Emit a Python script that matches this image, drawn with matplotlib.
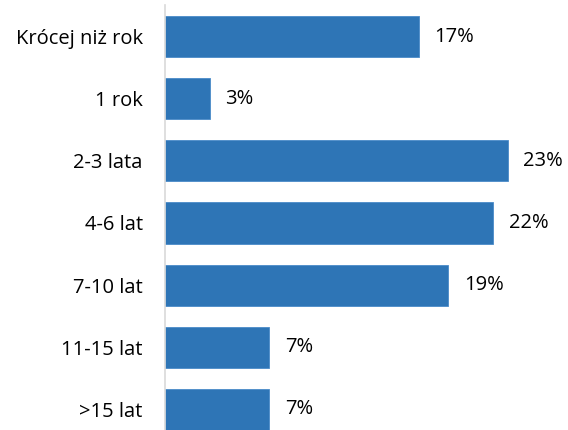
import matplotlib

matplotlib.use("Agg")
import matplotlib.pyplot as plt

plt.rcParams["font.family"] = ["Open Sans", "DejaVu Sans"]

# okres - odsetek odpowiedzi
categories = ["Krócej niż rok", "1 rok", "2-3 lata", "4-6 lat", "7-10 lat", "11-15 lat", ">15 lat"]
values = [17, 3, 23, 22, 19, 7, 7]
value_labels = [f"{v}%" for v in values]

BAR_COLOR = "#2E75B6"

fig = plt.figure(figsize=(5.68, 4.30), dpi=100)
ax = fig.add_axes([0.2905, -0.0246, 0.6567, 1.012])

y = list(range(len(categories)))
bars = ax.barh(y, values, height=0.66, color=BAR_COLOR,
               edgecolor="#4A8BC9", linewidth=0.6)

for bar, txt in zip(bars, value_labels):
    ax.annotate(txt, (bar.get_width(), bar.get_y() + bar.get_height() / 2),
                xytext=(11, 0), textcoords="offset points",
                ha="left", va="center", fontsize=14.5, color="#000000")

ax.set_xlim(0, 25)
ax.set_ylim(len(categories) - 0.5, -0.5)
ax.set_yticks(y)
ax.set_yticklabels(categories, fontsize=14.5, color="#000000")
ax.tick_params(axis="y", length=0, pad=16)
ax.set_xticks([])

for side in ("top", "right", "bottom"):
    ax.spines[side].set_visible(False)
ax.spines["left"].set_color("#D9D9D9")
ax.spines["left"].set_linewidth(1.2)

fig.savefig("out.png", dpi=100, facecolor="white")
